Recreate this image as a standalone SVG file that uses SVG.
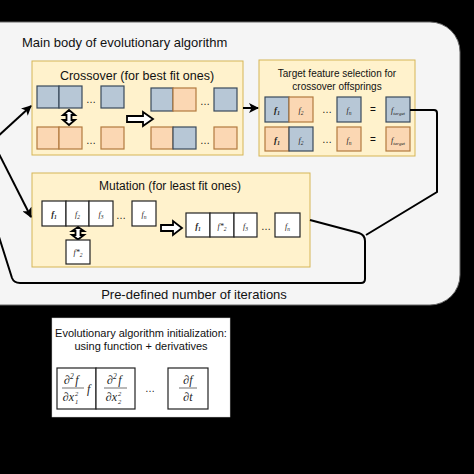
<svg xmlns="http://www.w3.org/2000/svg" width="474" height="474" viewBox="0 0 474 474">
<defs>
<style>
.t{font-family:"Liberation Sans",Arial,sans-serif;fill:#111}
.box{fill:#fff2cc;stroke:#d6b656;stroke-width:1}
.b{fill:#b7c7d6;stroke:#39495a;stroke-width:1.2}
.o{fill:#fbd7b3;stroke:#b37a3e;stroke-width:1.2}
.w{fill:#ffffff;stroke:#222;stroke-width:1.2}
.lbl{font-family:"Liberation Serif","Times New Roman",serif;font-style:italic;fill:#222;text-anchor:middle}
.m{font-family:"Liberation Serif","Times New Roman",serif;font-style:italic;fill:#222}
.c{fill:none;stroke:#000;stroke-width:2}
.ha{fill:#fff;stroke:#000;stroke-width:1.8;stroke-linejoin:miter}
</style>
<marker id="ah" viewBox="0 0 10 10" refX="9" refY="5" markerWidth="5" markerHeight="5" orient="auto" markerUnits="strokeWidth">
<path d="M0,0 L10,5 L0,10 L2.5,5 z" fill="#000"/>
</marker>
</defs>
<rect x="0" y="0" width="474" height="474" fill="#000"/>
<g id="main-panel">
<rect x="-30" y="22" width="490" height="283" rx="30" ry="30" fill="#f5f5f5" stroke="#666" stroke-width="1"/>
<text class="t" x="22" y="47" font-size="13">Main body of evolutionary algorithm</text>
</g>
<g id="crossover">
<rect class="box" x="32" y="61" width="211" height="94"/>
<text class="t" x="137" y="80" font-size="12.5" text-anchor="middle">Crossover (for best fit ones)</text>
<rect class="b" x="37" y="86" width="22" height="22"/>
<rect class="b" x="59" y="86" width="23" height="22"/>
<text class="t" x="91" y="103" font-size="10" text-anchor="middle">…</text>
<rect class="b" x="101" y="86" width="23" height="22"/>
<rect class="o" x="37" y="127" width="22" height="22"/>
<rect class="o" x="59" y="127" width="23" height="22"/>
<text class="t" x="91" y="144" font-size="10" text-anchor="middle">…</text>
<rect class="o" x="101" y="127" width="23" height="22"/>
<path class="ha" d="M69 110 L75 115 L71.5 115 L71.5 120 L75 120 L69 125 L63 120 L66.5 120 L66.5 115 L63 115 Z"/>
<path class="ha" d="M127 116 L143 116 L143 112 L153 119 L143 126 L143 122 L127 122 Z"/>
<rect class="b" x="151" y="88" width="22" height="23"/>
<rect class="o" x="173" y="88" width="23" height="23"/>
<text class="t" x="205" y="105" font-size="10" text-anchor="middle">…</text>
<rect class="b" x="214" y="88" width="23" height="23"/>
<rect class="o" x="151" y="127" width="22" height="22"/>
<rect class="b" x="173" y="127" width="23" height="22"/>
<text class="t" x="205" y="144" font-size="10" text-anchor="middle">…</text>
<rect class="o" x="214" y="127" width="23" height="22"/>
</g>
<g id="target-selection">
<rect class="box" x="259" y="60" width="156" height="96"/>
<text class="t" x="337" y="77" font-size="10" text-anchor="middle">Target feature selection for</text>
<text class="t" x="337" y="90" font-size="10" text-anchor="middle">crossover offsprings</text>
<rect class="b" x="265" y="97" width="24" height="25"/>
<rect class="o" x="289" y="97" width="24" height="25"/>
<text class="t" x="327" y="113" font-size="10" text-anchor="middle">…</text>
<rect class="b" x="337" y="97" width="24" height="25"/>
<text class="t" x="373" y="113" font-size="10" text-anchor="middle">=</text>
<rect class="b" x="386" y="97" width="24" height="25"/>
<text class="lbl" x="277" y="113" font-size="9" font-weight="bold">f<tspan font-size="6" dy="2">1</tspan></text>
<text class="lbl" x="301" y="113" font-size="8">f<tspan font-size="5.5" dy="2">2</tspan></text>
<text class="lbl" x="349" y="113" font-size="8">f<tspan font-size="5.5" dy="2">n</tspan></text>
<text class="lbl" x="398" y="113" font-size="8">f<tspan font-size="5" dy="2">target</tspan></text>
<rect class="o" x="265" y="127" width="24" height="24"/>
<rect class="b" x="289" y="127" width="24" height="24"/>
<text class="t" x="327" y="143" font-size="10" text-anchor="middle">…</text>
<rect class="o" x="337" y="127" width="24" height="24"/>
<text class="t" x="373" y="143" font-size="10" text-anchor="middle">=</text>
<rect class="o" x="386" y="127" width="24" height="24"/>
<text class="lbl" x="277" y="143" font-size="9" font-weight="bold">f<tspan font-size="6" dy="2">1</tspan></text>
<text class="lbl" x="301" y="143" font-size="8">f<tspan font-size="5.5" dy="2">2</tspan></text>
<text class="lbl" x="349" y="143" font-size="8">f<tspan font-size="5.5" dy="2">n</tspan></text>
<text class="lbl" x="398" y="143" font-size="8">f<tspan font-size="5" dy="2">target</tspan></text>
</g>
<g id="mutation">
<rect class="box" x="32" y="173" width="278" height="94"/>
<text class="t" x="170" y="190" font-size="12" text-anchor="middle">Mutation (for least fit ones)</text>
<rect class="w" x="42" y="201" width="24" height="25"/>
<rect class="w" x="66" y="201" width="23" height="25"/>
<rect class="w" x="89" y="201" width="24" height="25"/>
<text class="t" x="121" y="219" font-size="10" text-anchor="middle">…</text>
<rect class="w" x="132" y="201" width="24" height="25"/>
<text class="lbl" x="54" y="217" font-size="8.5" font-weight="bold">f<tspan font-size="5.5" dy="2">1</tspan></text>
<text class="lbl" x="77.5" y="217" font-size="8">f<tspan font-size="5.5" dy="2">2</tspan></text>
<text class="lbl" x="101" y="217" font-size="8">f<tspan font-size="5.5" dy="2">3</tspan></text>
<text class="lbl" x="144" y="217" font-size="8">f<tspan font-size="5.5" dy="2">n</tspan></text>
<path class="ha" d="M78 227 L84 231 L80.5 231 L80.5 235 L84 235 L78 239.5 L72 235 L75.5 235 L75.5 231 L72 231 Z"/>
<rect class="w" x="66" y="240" width="24" height="24"/>
<text class="lbl" x="78" y="255" font-size="8">f*<tspan font-size="5.5" dy="2">2</tspan></text>
<path class="ha" d="M161 225 L173 225 L173 221 L182 228 L173 235 L173 231 L161 231 Z"/>
<rect class="w" x="186" y="213" width="24" height="24"/>
<rect class="w" x="210" y="213" width="24" height="24"/>
<rect class="w" x="234" y="213" width="23" height="24"/>
<text class="t" x="266" y="230" font-size="10" text-anchor="middle">…</text>
<rect class="w" x="275" y="213" width="25" height="24"/>
<text class="lbl" x="198" y="229" font-size="8.5" font-weight="bold">f<tspan font-size="5.5" dy="2">1</tspan></text>
<text class="lbl" x="222" y="229" font-size="8">f*<tspan font-size="5.5" dy="2">2</tspan></text>
<text class="lbl" x="245.5" y="229" font-size="8">f<tspan font-size="5.5" dy="2">3</tspan></text>
<text class="lbl" x="287.5" y="229" font-size="8">f<tspan font-size="5.5" dy="2">n</tspan></text>
</g>
<g id="connectors">
<path class="c" d="M-5 139 L31 106" marker-end="url(#ah)"/>
<path class="c" d="M-5 146 L31 217" marker-end="url(#ah)"/>
<path class="c" d="M243 108 L258 108" marker-end="url(#ah)"/>
<path class="c" d="M410 110 L434 110 Q437 110 437 113 L437 192 L366 235"/>
<path class="c" d="M310 220 L359 233 Q365 235 365 241 L365 279 Q365 283 361 283 L20 283 Q14 283 12 278 L0 240 L-8 215"/>
</g>
<g id="iterations-label">
<text class="t" x="194" y="299" font-size="13" text-anchor="middle">Pre-defined number of iterations</text>
</g>
<g id="initialization">
<rect x="52" y="318" width="178" height="99" fill="#fff" stroke="#ccc" stroke-width="0.5"/>
<text class="t" x="141" y="337" font-size="11" text-anchor="middle">Evolutionary algorithm initialization:</text>
<text class="t" x="141" y="350" font-size="11" text-anchor="middle">using function + derivatives</text>
<rect class="w" x="57" y="368" width="39" height="41"/>
<rect class="w" x="96" y="368" width="39" height="41"/>
<text class="t" x="150" y="392" font-size="10" text-anchor="middle" fill="#333">…</text>
<rect class="w" x="168" y="368" width="40" height="41"/>
<text class="m" x="64" y="384" font-size="12">∂<tspan font-size="7.5" dy="-5">2</tspan><tspan dy="5" dx="1.5">f</tspan></text>
<line x1="62" y1="388" x2="84" y2="388" stroke="#333" stroke-width="0.7"/>
<text class="m" x="74" y="401" font-size="12" text-anchor="end">∂x</text>
<text class="m" x="75" y="396" font-size="6.5">2</text>
<text class="m" x="75" y="404" font-size="6.5">1</text>
<text class="m" x="87" y="393" font-size="12">f</text>
<text class="m" x="107" y="384" font-size="12">∂<tspan font-size="7.5" dy="-5">2</tspan><tspan dy="5" dx="1.5">f</tspan></text>
<line x1="104" y1="388" x2="127" y2="388" stroke="#333" stroke-width="0.7"/>
<text class="m" x="117" y="401" font-size="12" text-anchor="end">∂x</text>
<text class="m" x="118" y="396" font-size="6.5">2</text>
<text class="m" x="118" y="404" font-size="6.5">2</text>
<text class="m" x="188" y="384" font-size="12" text-anchor="middle">∂f</text>
<line x1="179" y1="388" x2="197" y2="388" stroke="#333" stroke-width="0.7"/>
<text class="m" x="188" y="401" font-size="12" text-anchor="middle">∂t</text>
</g>
</svg>
